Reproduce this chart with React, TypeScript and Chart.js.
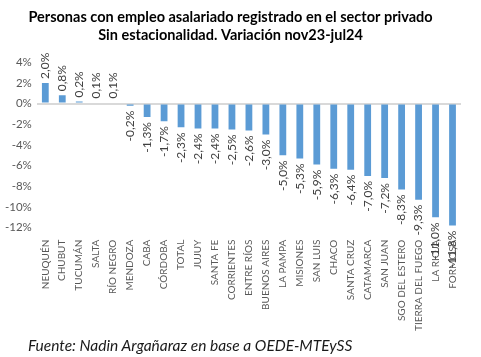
import React, { useEffect, useRef } from "react";
import { Chart, registerables } from "chart.js";

Chart.register(...registerables);

const categories = [
  "NEUQUÉN", "CHUBUT", "TUCUMÁN", "SALTA", "RÍO NEGRO", "MENDOZA", "CABA", "CÓRDOBA",
  "TOTAL", "JUJUY", "SANTA FE", "CORRIENTES", "ENTRE RÍOS", "BUENOS AIRES", "LA PAMPA",
  "MISIONES", "SAN LUIS", "CHACO", "SANTA CRUZ", "CATAMARCA", "SAN JUAN", "SGO DEL ESTERO",
  "TIERRA DEL FUEGO", "LA RIOJA", "FORMOSA",
];
const values = [
  2.0, 0.8, 0.2, 0.1, 0.1, -0.2, -1.3, -1.7, -2.3, -2.4, -2.4, -2.5, -2.6, -3.0, -5.0,
  -5.3, -5.9, -6.3, -6.4, -7.0, -7.2, -8.3, -9.3, -11.0, -11.8,
];
const titleLines = [
  "Personas con empleo asalariado registrado en el sector privado",
  "Sin estacionalidad. Variación nov23-jul24",
];
const sourceText = "Fuente: Nadin Argañaraz en base a OEDE-MTEySS";

const FONT = "Lato, 'Open Sans', sans-serif";

const fmt = (v: number) => v.toFixed(1).replace(".", ",") + "%";

const labelPlugin = {
  id: "barLabels",
  afterDatasetsDraw(chart: any) {
    const ctx = chart.ctx;
    const meta = chart.getDatasetMeta(0);
    ctx.save();
    ctx.font = `12px ${FONT}`;
    ctx.fillStyle = "#404040";
    ctx.textBaseline = "middle";
    meta.data.forEach((bar: any, i: number) => {
      const v = values[i];
      ctx.save();
      if (v >= 0) {
        ctx.translate(bar.x, bar.y - 4);
        ctx.rotate(-Math.PI / 2);
        ctx.textAlign = "left";
      } else {
        ctx.translate(bar.x, bar.y + 5);
        ctx.rotate(-Math.PI / 2);
        ctx.textAlign = "right";
      }
      ctx.fillText(fmt(v), 0, 0);
      ctx.restore();
    });
    ctx.restore();
  },
};

export default function App() {
  const ref = useRef<HTMLCanvasElement>(null);
  useEffect(() => {
    document.body.style.margin = "0";
    const chart = new Chart(ref.current!, {
      type: "bar",
      data: {
        labels: categories,
        datasets: [
          {
            data: values,
            backgroundColor: "#5B9BD5",
            barPercentage: 0.4,
            categoryPercentage: 1,
          },
        ],
      },
      options: {
        animation: false,
        responsive: false,
        layout: { padding: { left: 0, right: 20, top: 4, bottom: 22 } },
        plugins: {
          legend: { display: false },
          tooltip: { enabled: false },
          title: {
            display: true,
            text: titleLines,
            color: "#000",
            font: { family: FONT, size: 14.5, weight: "bold", lineHeight: 1.25 },
            padding: { top: 4, bottom: 18 },
          },
        },
        scales: {
          x: {
            grid: { display: false },
            border: { display: false },
            ticks: {
              autoSkip: false,
              maxRotation: 90,
              minRotation: 90,
              color: "#595959",
              font: { family: FONT, size: 10 },
              padding: 4,
            },
          },
          y: {
            min: -12,
            max: 4,
            border: { display: false },
            grid: {
              drawTicks: false,
              color: (c: any) => (c.tick && c.tick.value === 0 ? "#d9d9d9" : "rgba(0,0,0,0)"),
              lineWidth: 2,
            },
            ticks: {
              stepSize: 2,
              color: "#595959",
              font: { family: FONT, size: 11.5 },
              padding: 5,
              callback: (v: any) => v + "%",
            },
          },
        },
      },
      plugins: [labelPlugin],
    });
    return () => chart.destroy();
  }, []);
  return (
    <div style={{ position: "relative", width: 481, height: 357, background: "#fff" }}>
      <canvas ref={ref} width={481} height={357} />
      <div
        style={{
          position: "absolute",
          left: 28,
          top: 335,
          fontFamily: FONT,
          fontStyle: "italic",
          fontSize: 15.5,
          color: "#1a1a1a",
          whiteSpace: "nowrap",
          lineHeight: "20px",
        }}
      >
        {sourceText}
      </div>
    </div>
  );
}
